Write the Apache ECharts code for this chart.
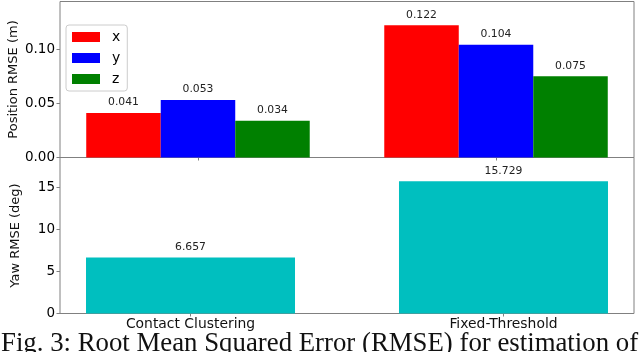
<!DOCTYPE html>
<html>
<head>
<meta charset="utf-8">
<script src="https://cdn.jsdelivr.net/npm/echarts@6/dist/echarts.min.js"></script>
<style>
html,body{margin:0;padding:0;background:#fff;}
#chart{width:640px;height:352px;}
</style>
</head>
<body>
<div id="chart"></div>
<script>
const categories = ['Contact Clustering', 'Fixed-Threshold'];
const posX = [0.041, 0.122];
const posY = [0.053, 0.104];
const posZ = [0.034, 0.075];
const yawVals = [6.657, 15.729];
const posTicks = [0, 0.05, 0.10];
const yawTicks = [0, 5, 10, 15];
const caption = 'Fig. 3: Root Mean Squared Error (RMSE) for estimation of';

const catIdx = categories.map((c, i) => i);
const pair = (arr) => arr.map((v, i) => [i, v]);

const FONT = 'DejaVu Sans';
const GRAY = '#808080';

const chart = echarts.init(document.getElementById('chart'), null, {renderer: 'canvas'});

const labelCfg = {show: true, position: 'top', distance: 5, fontFamily: FONT, fontSize: 10.8, color: '#222',
  formatter: p => p.value[1].toFixed(3)};

const option = {
  animation: false,
  backgroundColor: '#fff',
  legend: {
    data: ['x', 'y', 'z'],
    orient: 'vertical',
    left: 66, top: 25,
    itemWidth: 28, itemHeight: 10, itemGap: 7,
    padding: [5, 7, 5, 6],
    borderColor: '#cccccc', borderWidth: 1, borderRadius: 3,
    backgroundColor: '#fff',
    icon: 'rect',
    textStyle: {fontFamily: FONT, fontSize: 14, color: '#000', padding: [0, 0, 0, 7]}
  },
  grid: [
    {left: 60, right: 6, top: 1.5, height: 156, show: true, borderColor: GRAY, borderWidth: 1,
     backgroundColor: 'transparent', containLabel: false, outerBoundsMode: 'none'},
    {left: 60, right: 6, top: 157.5, height: 156, show: true, borderColor: GRAY, borderWidth: 1,
     backgroundColor: 'transparent', containLabel: false, outerBoundsMode: 'none'}
  ],
  xAxis: [
    {gridIndex: 0, type: 'value', min: -0.463, max: 1.463,
     axisLine: {show: false, onZero: false}, splitLine: {show: false},
     axisTick: {show: true, customValues: catIdx, length: 3, lineStyle: {color: GRAY}},
     axisLabel: {show: false}},
    {gridIndex: 1, type: 'value', min: -0.417, max: 1.417,
     axisLine: {show: false, onZero: false}, splitLine: {show: false},
     axisTick: {show: true, customValues: catIdx, length: 3, lineStyle: {color: GRAY}},
     axisLabel: {show: true, customValues: catIdx, formatter: v => categories[Math.round(v)] || '',
       fontFamily: FONT, fontSize: 13.9, color: '#111', margin: 4}}
  ],
  yAxis: [
    {gridIndex: 0, type: 'value', min: 0, max: 0.144,
     name: 'Position RMSE (m)', nameLocation: 'middle', nameRotate: 90, nameGap: 40, nameMoveOverlap: false,
     nameTextStyle: {fontFamily: FONT, fontSize: 13, color: '#111'},
     axisLine: {show: false, onZero: false}, splitLine: {show: false},
     axisTick: {show: true, customValues: posTicks, length: 3.5, lineStyle: {color: GRAY}},
     axisLabel: {customValues: posTicks, formatter: v => v.toFixed(2), fontFamily: FONT, fontSize: 13.5, color: '#000', margin: 5}},
    {gridIndex: 1, type: 'value', min: 0, max: 18.56,
     name: 'Yaw RMSE (deg)', nameLocation: 'middle', nameRotate: 90, nameGap: 38, nameMoveOverlap: false,
     nameTextStyle: {fontFamily: FONT, fontSize: 13, color: '#111'},
     axisLine: {show: false, onZero: false}, splitLine: {show: false},
     axisTick: {show: true, customValues: yawTicks, length: 3.5, lineStyle: {color: GRAY}},
     axisLabel: {customValues: yawTicks, formatter: v => String(v), fontFamily: FONT, fontSize: 13.5, color: '#000', margin: 5}}
  ],
  series: [
    {name: 'x', type: 'bar', xAxisIndex: 0, yAxisIndex: 0, data: pair(posX), barWidth: 74.5, barGap: '0%',
     itemStyle: {color: '#ff0000'}, label: labelCfg},
    {name: 'y', type: 'bar', xAxisIndex: 0, yAxisIndex: 0, data: pair(posY), barWidth: 74.5, barGap: '0%',
     itemStyle: {color: '#0000ff'}, label: labelCfg},
    {name: 'z', type: 'bar', xAxisIndex: 0, yAxisIndex: 0, data: pair(posZ), barWidth: 74.5, barGap: '0%',
     itemStyle: {color: '#008000'}, label: labelCfg},
    {name: 'yaw', type: 'bar', xAxisIndex: 1, yAxisIndex: 1, data: pair(yawVals), barWidth: 209,
     itemStyle: {color: '#00bfbf'}, label: labelCfg}
  ],
  graphic: [
    {type: 'text', left: 1, top: 330, silent: true,
     style: {text: caption, fontFamily: 'Liberation Serif', fontSize: 26.8, fill: '#111'}}
  ]
};
chart.setOption(option);
</script>
</body>
</html>
